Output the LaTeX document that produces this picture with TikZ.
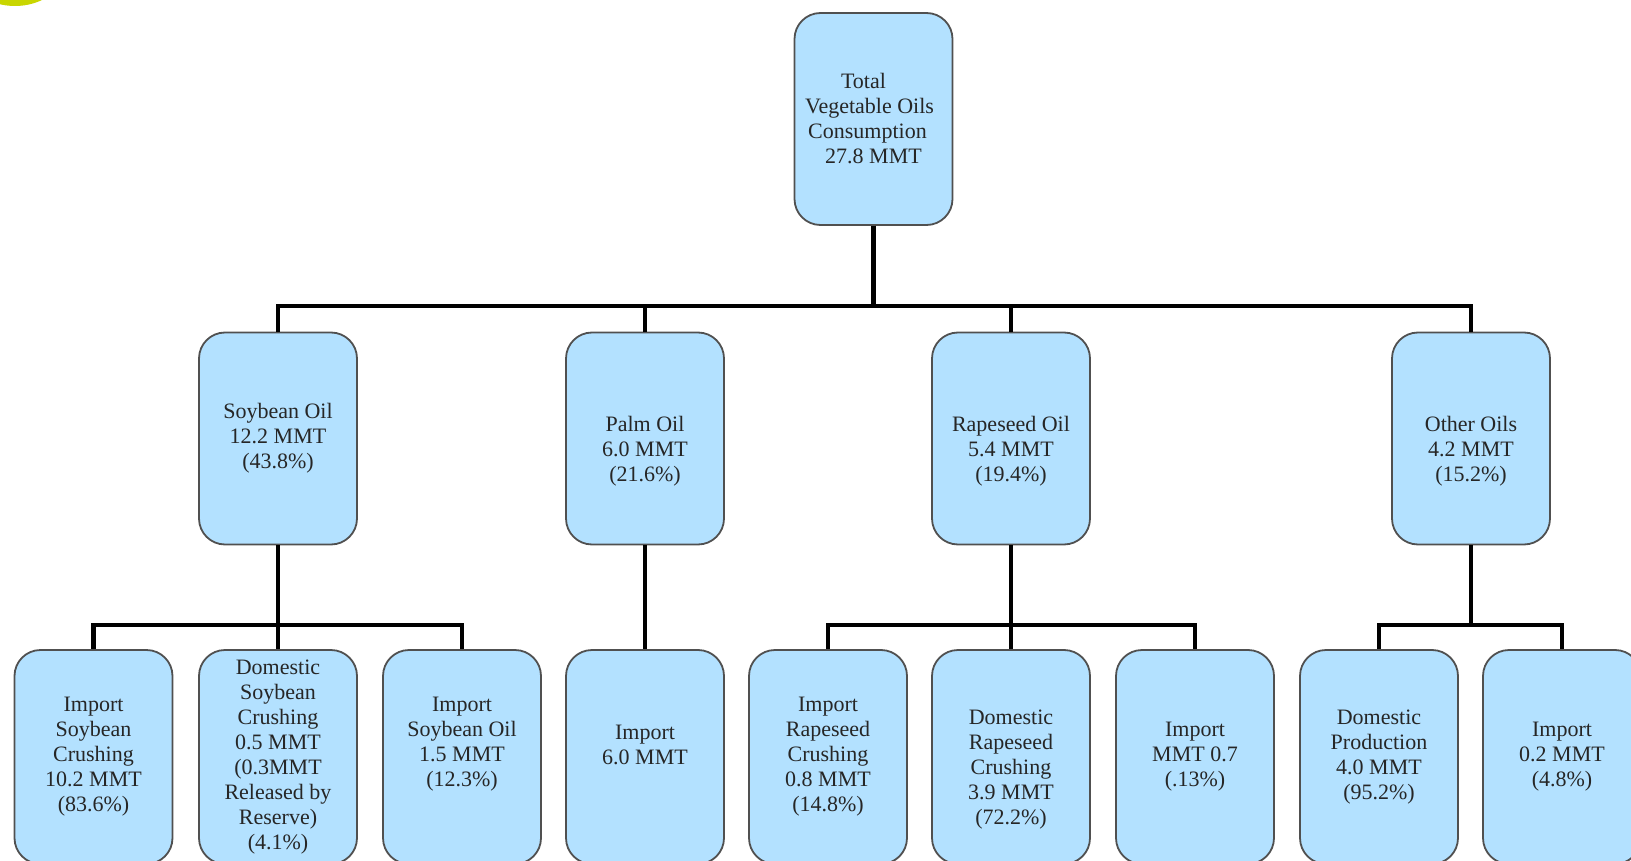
\documentclass[tikz,border=0pt]{standalone}
\usepackage{fontspec}
\setmainfont{Liberation Serif}
\newfontfamily\tnr{Liberation Serif}
\definecolor{boxfill}{HTML}{B3E1FF}
\definecolor{boxline}{HTML}{505050}
\definecolor{ylw}{HTML}{C9D600}
\begin{document}
\begin{tikzpicture}[x=1pt,y=-1pt,
  box/.style={draw=boxline, line width=1.8pt, fill=boxfill, rounded corners=26pt,
    minimum width=158pt, minimum height=212pt, inner sep=0pt},
  lowbox/.style={box, minimum height=214pt},
  txt/.style={align=center, inner sep=0pt, font=\tnr\fontsize{22}{25}\selectfont, text=black!85},
  conn/.style={line width=4.5pt, black, line join=miter}]
\useasboundingbox (0,0) rectangle (1631,861);
\fill[ylw] (15,-58) circle (64);
% levels
\coordinate (bus1) at (0,306);
\coordinate (bus2) at (0,625);
% top
\node[box] (top) at (873.5,119) {};
\node[txt] (ttop) at (top.center) {Total\kern20pt\\Vegetable Oils\kern8pt\\Consumption\kern12pt\\27.8 MMT};
% middle
\node[box] (soy) at (278,438.5) {};
\node[box] (palm) at (645,438.5) {};
\node[box] (rape) at (1011,438.5) {};
\node[box] (other) at (1471,438.5) {};
\node[txt] (tsoy) at (soy.center) {Soybean Oil\\12.2 MMT\\(43.8\%)};
\node[txt,yshift=-12.5pt] (tpalm) at (palm.center) {Palm Oil\\6.0 MMT\\(21.6\%)};
\node[txt,yshift=-12.5pt] (trape) at (rape.center) {Rapeseed Oil\\5.4 MMT\\(19.4\%)};
\node[txt,yshift=-12.5pt] (tother) at (other.center) {Other Oils\\4.2 MMT\\(15.2\%)};
% bottom
\node[lowbox] (s1) at (93.5,757) {};
\node[lowbox] (s2) at (278,757) {};
\node[lowbox] (s3) at (462,757) {};
\node[lowbox] (p1) at (645,757) {};
\node[lowbox] (r1) at (828,757) {};
\node[lowbox] (r2) at (1011,757) {};
\node[lowbox] (r3) at (1195,757) {};
\node[lowbox] (o1) at (1379,757) {};
\node[lowbox] (o2) at (1562,757) {};
\node[txt] (ts1) at (s1.center) {Import\\Soybean\\Crushing\\10.2 MMT\\(83.6\%)};
\node[txt] (ts2) at (s2.center) {Domestic\\Soybean\\Crushing\\0.5 MMT\\(0.3MMT\\Released by\\Reserve)\\(4.1\%)};
\node[txt,yshift=12.5pt] (ts3) at (s3.center) {Import\\Soybean Oil\\1.5 MMT\\(12.3\%)};
\node[txt,yshift=12.5pt] (tp1) at (p1.center) {Import\\6.0 MMT};
\node[txt] (tr1) at (r1.center) {Import\\Rapeseed\\Crushing\\0.8 MMT\\(14.8\%)};
\node[txt,yshift=-12.5pt] (tr2) at (r2.center) {Domestic\\Rapeseed\\Crushing\\3.9 MMT\\(72.2\%)};
\node[txt] (tr3) at (r3.center) {Import\\MMT 0.7\\(.13\%)};
\node[txt] (to1) at (o1.center) {Domestic\\Production\\4.0 MMT\\(95.2\%)};
\node[txt] (to2) at (o2.center) {Import\\0.2 MMT\\(4.8\%)};
% connectors
\foreach \c in {soy,palm,rape,other}
  \draw[conn] (top.south) -- (top.south |- bus1) -| (\c.north);
\foreach \c in {s1,s2,s3}
  \draw[conn] (soy.south) -- (soy.south |- bus2) -| (\c.north);
\draw[conn] (palm.south) -- (p1.north);
\foreach \c in {r1,r2,r3}
  \draw[conn] (rape.south) -- (rape.south |- bus2) -| (\c.north);
\foreach \c in {o1,o2}
  \draw[conn] (other.south) -- (other.south |- bus2) -| (\c.north);
\end{tikzpicture}
\end{document}
